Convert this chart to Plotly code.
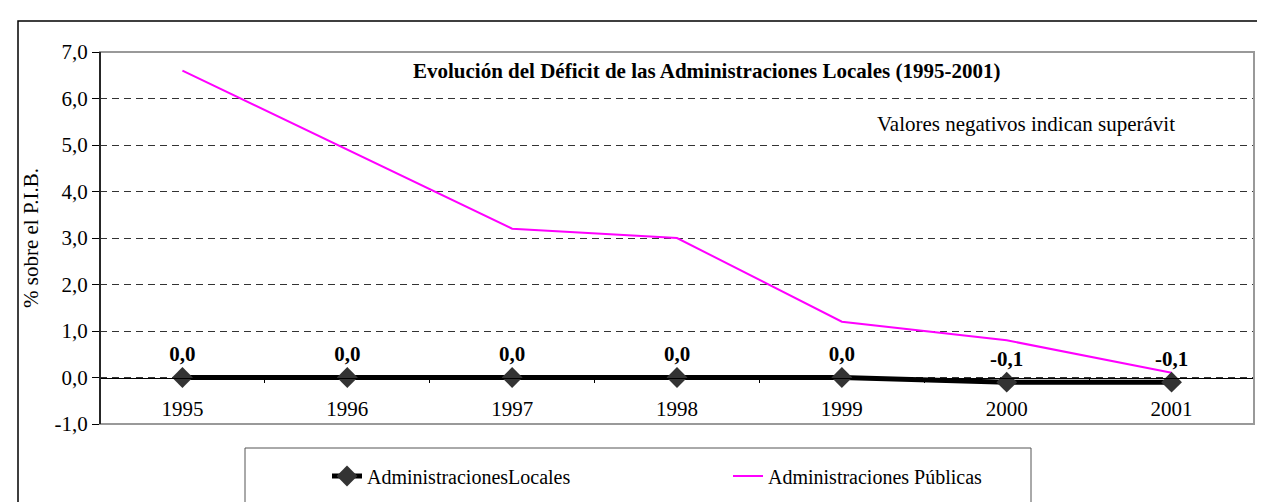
import plotly.graph_objects as go

years = ["1995", "1996", "1997", "1998", "1999", "2000", "2001"]
locales = [0.0, 0.0, 0.0, 0.0, 0.0, -0.1, -0.1]
publicas = [6.6, 4.9, 3.2, 3.0, 1.2, 0.8, 0.1]
ytick_vals = [-1, 0, 1, 2, 3, 4, 5, 6, 7]


def fmt(v):
    return f"{v:.1f}".replace(".", ",")


ytick_text = [fmt(v) for v in ytick_vals]
locales_text = [fmt(v) for v in locales]

W, H = 1265, 502
ML, MR, MT, MB = 92, 19, 44, 86
PW, PH = W - ML - MR, H - MT - MB


def px(x):
    return (x - ML) / PW


def py(y):
    return 1 - (y - MT) / PH


FONT = "Liberation Serif, serif"
FS = 21

fig = go.Figure()
fig.add_trace(go.Scatter(
    x=years, y=publicas, mode="lines", name="Administraciones Públicas",
    line=dict(color="#FF00FF", width=2), cliponaxis=False,
))
fig.add_trace(go.Scatter(
    x=years, y=locales, mode="lines+markers+text", name="AdministracionesLocales",
    line=dict(color="#000000", width=5),
    marker=dict(symbol="diamond", size=16, color="#333333"),
    text=locales_text, textposition="top center",
    textfont=dict(family=FONT, size=FS, color="#000000", weight="bold"),
    cliponaxis=False,
))

shapes = [
    dict(type="rect", xref="paper", yref="paper", x0=px(10), x1=px(1275), y0=py(13), y1=py(510),
         line=dict(color="#000000", width=1.5), layer="below"),
    dict(type="rect", xref="paper", yref="paper", x0=0, x1=1, y0=0, y1=1,
         line=dict(color="#999999", width=2), layer="above"),
    dict(type="rect", xref="paper", yref="paper", x0=px(237), x1=px(1023), y0=py(440), y1=py(496),
         line=dict(color="#555555", width=1), layer="below"),
    dict(type="line", xref="paper", yref="paper", x0=0, x1=0, y0=0, y1=1,
         line=dict(color="#000000", width=1.5), layer="above"),
]

annotations = [
    dict(text="<b>Evolución del Déficit de las Administraciones Locales (1995-2001)</b>",
         xref="paper", yref="paper", x=px(403), y=py(63), xanchor="left", yanchor="middle",
         showarrow=False, font=dict(family=FONT, size=FS, color="#000000")),
    dict(text="Valores negativos indican superávit",
         xref="paper", yref="paper", x=px(867), y=py(116), xanchor="left", yanchor="middle",
         showarrow=False, font=dict(family=FONT, size=FS, color="#000000")),
]

fig.update_layout(
    width=W, height=H,
    margin=dict(l=ML, r=MR, t=MT, b=MB),
    paper_bgcolor="#FFFFFF", plot_bgcolor="#FFFFFF",
    font=dict(family=FONT, size=FS, color="#000000"),
    showlegend=True,
    legend=dict(orientation="h", x=px(319), y=py(468), xanchor="left", yanchor="middle",
                traceorder="reversed", entrywidth=356, entrywidthmode="pixels",
                bgcolor="rgba(0,0,0,0)", borderwidth=0,
                font=dict(family=FONT, size=20, color="#000000")),
    shapes=shapes,
    annotations=annotations,
    xaxis=dict(
        type="category", range=[-0.5, 6.5], anchor="free", position=0.125,
        showline=True, linecolor="#000000", linewidth=1,
        ticks="outside", tickson="boundaries", ticklen=4, tickcolor="#000000",
        showgrid=False, zeroline=False, ticklabelstandoff=12,
        tickfont=dict(family=FONT, size=FS, color="#000000"),
    ),
    yaxis=dict(
        range=[-1, 7], tickvals=ytick_vals, ticktext=ytick_text,
        showline=True, linecolor="#000000", linewidth=1,
        ticks="outside", ticklen=7, tickcolor="#000000",
        showgrid=True, gridcolor="#333333", gridwidth=1, griddash="7px,5px",
        zeroline=False,
        tickfont=dict(family=FONT, size=FS, color="#000000"),
        title=dict(text="% sobre el P.I.B.", standoff=10,
                   font=dict(family=FONT, size=FS, color="#000000")),
    ),
)

fig.write_html("out.html")
